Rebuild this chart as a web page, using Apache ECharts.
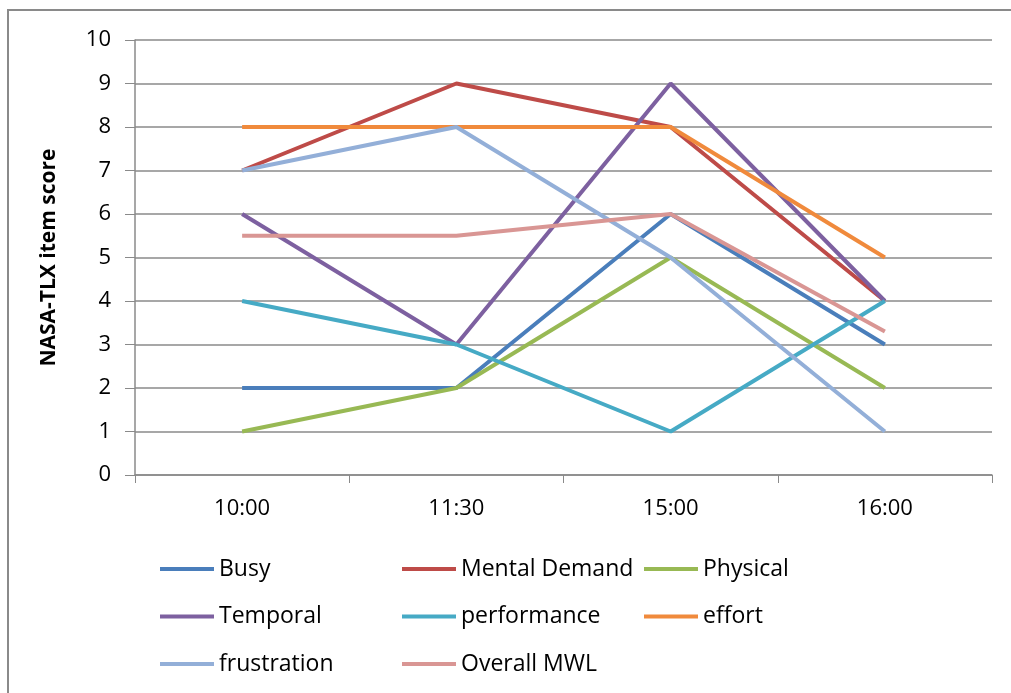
<!DOCTYPE html>
<html>
<head>
<meta charset="utf-8">
<script src="https://cdn.jsdelivr.net/npm/echarts@6/dist/echarts.min.js"></script>
<style>
  html, body { margin: 0; padding: 0; background: #fff; }
  #chart { width: 1011px; height: 693px; }
</style>
</head>
<body>
<div id="chart"></div>
<script>
// Measurement times
const times = ['10:00', '11:30', '15:00', '16:00'];

// NASA-TLX item scores per time
const busy = [2, 2, 6, 3];
const mentalDemand = [7, 9, 8, 4];
const physical = [1, 2, 5, 2];
const temporal = [6, 3, 9, 4];
const performance = [4, 3, 1, 4];
const effort = [8, 8, 8, 5];
const frustration = [7, 8, 5, 1];
const overallMWL = [5.5, 5.5, 6, 3.3];

const seriesDefs = [
  { name: 'Busy', data: busy, color: '#4A7EBB' },
  { name: 'Mental Demand', data: mentalDemand, color: '#BE4B48' },
  { name: 'Physical', data: physical, color: '#98B954' },
  { name: 'Temporal', data: temporal, color: '#7D60A0' },
  { name: 'performance', data: performance, color: '#46AAC5' },
  { name: 'effort', data: effort, color: '#F08A3C' },
  { name: 'frustration', data: frustration, color: '#93AFD8' },
  { name: 'Overall MWL', data: overallMWL, color: '#D99694' }
];

const FONT = '"Open Sans", sans-serif';

function legendColumn(left, names) {
  return {
    orient: 'vertical',
    left: left,
    top: 557,
    padding: 0,
    itemWidth: 54,
    itemHeight: 4,
    itemGap: 23.5,
    icon: 'rect',
    data: names,
    textStyle: { fontFamily: FONT, fontSize: 23, lineHeight: 24, color: '#000', padding: [0, 0, 0, 0] }
  };
}

const chart = echarts.init(document.getElementById('chart'), null, { renderer: 'canvas' });
chart.setOption({
  animation: false,
  backgroundColor: '#fff',
  color: seriesDefs.map(s => s.color),
  graphic: [{
    type: 'rect',
    shape: { x: 8, y: 10, width: 1100, height: 800 },
    style: { fill: 'none', stroke: '#8a8a8a', lineWidth: 2 },
    silent: true
  }],
  grid: { left: 135, right: 19, top: 40, bottom: 218 },
  legend: [
    legendColumn(160, ['Busy', 'Temporal', 'frustration']),
    legendColumn(402, ['Mental Demand', 'performance', 'Overall MWL']),
    legendColumn(644, ['Physical', 'effort'])
  ],
  xAxis: {
    type: 'category',
    data: times,
    boundaryGap: true,
    axisLine: { lineStyle: { color: '#8a8a8a', width: 1.5 } },
    axisTick: { show: true, length: 8, lineStyle: { color: '#8a8a8a' } },
    axisLabel: { fontFamily: FONT, fontSize: 22, color: '#000', margin: 23 },
    splitLine: { show: false }
  },
  yAxis: {
    type: 'value',
    min: 0,
    max: 10,
    interval: 1,
    name: 'NASA-TLX item score',
    nameLocation: 'middle',
    nameGap: 75,
    nameRotate: 90,
    nameTextStyle: { fontFamily: FONT, fontSize: 21, fontWeight: 'bold', color: '#000' },
    axisLine: { show: true, lineStyle: { color: '#8a8a8a', width: 1.5 } },
    axisTick: { show: true, length: 10, lineStyle: { color: '#8a8a8a' } },
    axisLabel: { fontFamily: FONT, fontSize: 22, color: '#000', margin: 24 },
    splitLine: { show: true, lineStyle: { color: '#8a8a8a', width: 1.5 } }
  },
  series: seriesDefs.map(s => ({
    name: s.name,
    type: 'line',
    data: s.data,
    showSymbol: false,
    symbol: 'none',
    lineStyle: { width: 4, color: s.color },
    itemStyle: { color: s.color }
  }))
});
</script>
</body>
</html>
